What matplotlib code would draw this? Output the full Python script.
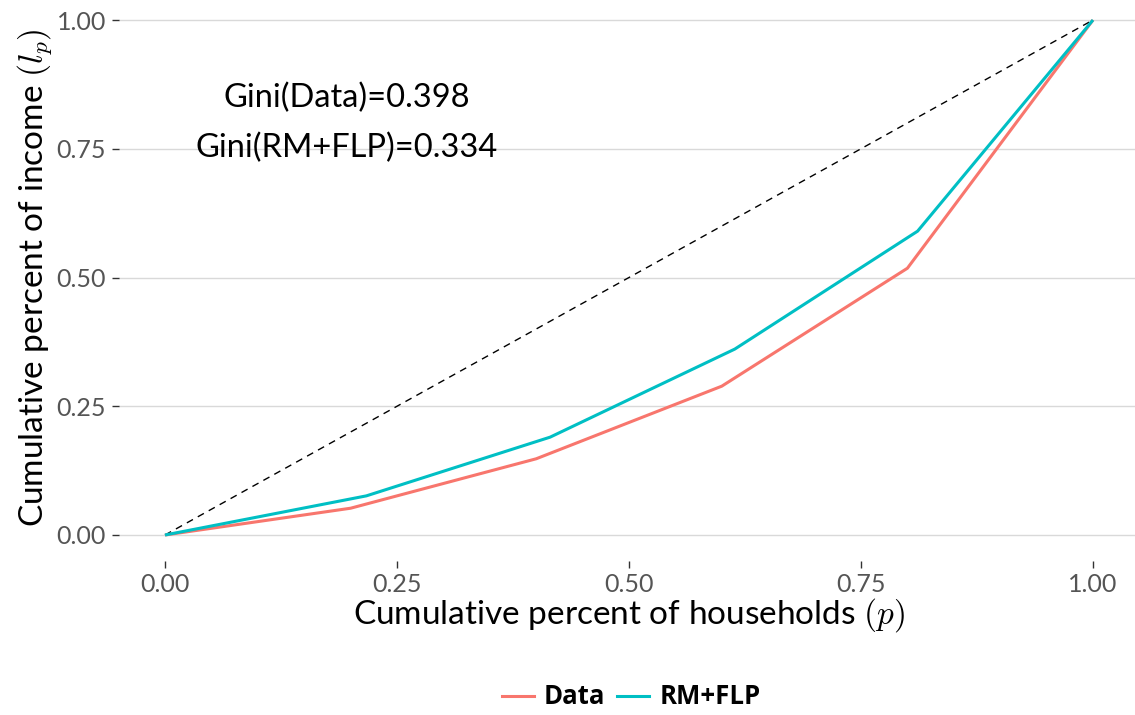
import numpy as np
import matplotlib
matplotlib.use('Agg')
import matplotlib.pyplot as plt
from matplotlib.lines import Line2D

plt.rcParams['font.family'] = ['Lato', 'DejaVu Sans']
plt.rcParams['mathtext.fontset'] = 'cm'

# Lorenz curve points
p_data = [0.0, 0.20, 0.40, 0.60, 0.80, 1.0]
l_data = [0.0, 0.052, 0.148, 0.289, 0.518, 1.0]
p_model = [0.0, 0.217, 0.415, 0.614, 0.811, 1.0]
l_model = [0.0, 0.076, 0.190, 0.361, 0.590, 1.0]

ticks = [0.0, 0.25, 0.5, 0.75, 1.0]
tick_labels = ['0.00', '0.25', '0.50', '0.75', '1.00']
gini_text = ['Gini(Data)=0.398', 'Gini(RM+FLP)=0.334']

W, H = 1135, 715
fig = plt.figure(figsize=(W / 100, H / 100), dpi=100)
# panel (with ggplot-like 5% expansion) runs a little past the image edges
left, right, bottom, top = 118.6, 1139.4, 560.75, -5.75
ax = fig.add_axes([left / W, 1 - bottom / H, (right - left) / W, (bottom - top) / H])

ax.plot([0, 1], [0, 1], color='black', lw=1.0, ls=(0, (5, 4)))
ax.plot(p_data, l_data, color='#F8766D', lw=2.2, solid_capstyle='butt')
ax.plot(p_model, l_model, color='#00BFC4', lw=2.2, solid_capstyle='butt')

ax.set_xlim(-0.05, 1.05)
ax.set_ylim(-0.05, 1.05)
ax.set_xticks(ticks)
ax.set_xticklabels(tick_labels)
ax.set_yticks(ticks)
ax.set_yticklabels(tick_labels)
ax.grid(axis='y', color='#d9d9d9', lw=1.0)
ax.set_axisbelow(True)
for s in ax.spines.values():
    s.set_visible(False)
ax.tick_params(axis='both', colors='#333333', labelcolor='#555555', labelsize=18,
               length=5, width=1.0, pad=4)

ax.set_xlabel('Cumulative percent of households $(p)$', fontsize=24, labelpad=0)
ax.set_ylabel('Cumulative percent of income $(l_p)$', fontsize=24, labelpad=2)

ax.text(0.196, 0.849, gini_text[0], fontsize=23.5, ha='center', va='center')
ax.text(0.196, 0.751, gini_text[1], fontsize=23.5, ha='center', va='center')

handles = [Line2D([], [], color='#F8766D', lw=2.2),
           Line2D([], [], color='#00BFC4', lw=2.2)]
leg = fig.legend(handles, ['Data', 'RM+FLP'], loc='center', bbox_to_anchor=(631 / W, 1 - 697 / H),
                 ncol=2, frameon=False,
                 prop={'family': 'Open Sans', 'weight': 'bold', 'size': 18.5},
                 handlelength=1.25, handletextpad=0.4, columnspacing=0.45)

fig.savefig('out.png', dpi=100)
